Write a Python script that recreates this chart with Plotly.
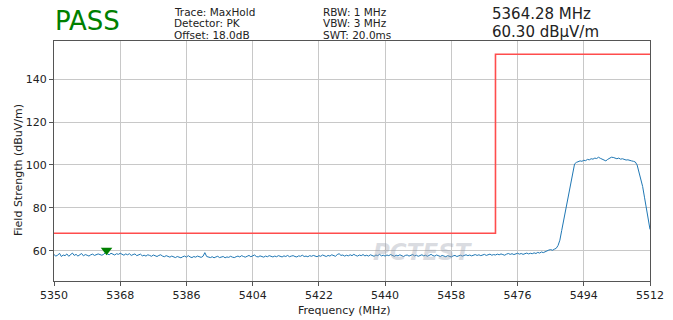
import plotly.graph_objects as go

start_freq = 5350.0
step_mhz = 0.5

trace_vals = [
    58.3, 57.6, 58.0, 58.9, 57.4, 58.1, 57.8, 58.6, 57.5, 58.2, 59.0, 57.9, 58.4, 57.6, 58.1, 58.8, 57.7, 58.3, 58.0, 57.6,
    58.2, 58.5, 57.9, 58.1, 58.6, 58.3, 58.0, 58.4, 59.3, 58.6, 58.2, 58.9, 58.5, 58.1, 58.7, 58.4, 58.9, 58.3, 58.0, 58.6,
    58.2, 58.7, 57.9, 58.3, 58.6, 57.8, 58.1, 58.5, 57.7, 58.0, 57.6, 58.2, 57.9, 57.5, 58.1, 57.8, 57.4, 57.9, 58.2, 57.6,
    57.3, 57.8, 57.5, 57.1, 57.6, 57.2, 56.9, 57.4, 57.0, 56.8, 57.3, 57.6, 57.1, 57.8, 57.2, 56.9, 57.4, 57.1, 57.6, 57.3,
    57.0, 57.5, 59.2, 57.4, 57.1, 56.9, 57.3, 56.8, 57.2, 57.5, 56.9, 57.1, 57.4, 56.8, 57.2, 57.0, 57.5, 57.1, 56.9, 57.3,
    57.6, 57.2, 57.8, 57.4, 57.1, 57.5, 57.9, 57.3, 57.6, 58.1, 57.4, 57.2, 57.7, 57.5, 57.1, 57.6, 57.3, 57.8, 57.4, 57.2,
    57.6, 57.3, 57.8, 57.5, 57.2, 57.7, 57.4, 57.9, 57.3, 57.6, 57.8, 57.4, 57.2, 57.7, 57.5, 58.0, 57.4, 57.6, 57.3, 57.8,
    57.5, 57.9, 57.6, 57.3, 57.8, 57.5, 58.1, 57.7, 57.4, 57.9, 57.6, 58.2, 57.8, 57.5, 58.3, 58.7, 57.9, 58.1, 57.6, 58.0,
    57.7, 58.2, 57.8, 58.4, 57.9, 57.6, 58.1, 57.8, 58.3, 57.7, 58.0, 57.6, 58.2, 57.9, 57.5, 58.1, 57.8, 58.4, 57.7, 58.0,
    57.6, 58.1, 57.8, 58.3, 57.9, 57.5, 58.0, 57.7, 58.2, 57.8, 57.4, 57.9, 58.1, 57.6, 57.9, 58.3, 57.7, 58.0, 57.5, 57.8,
    58.2, 57.7, 58.0, 57.5, 57.9, 58.4, 57.8, 57.6, 58.1, 57.7, 57.4, 57.9, 57.6, 57.3, 57.8, 57.5, 57.2, 57.7, 57.9, 57.4,
    57.7, 58.0, 57.6, 57.9, 58.2, 57.8, 58.1, 57.7, 58.0, 58.3, 57.9, 58.2, 57.8, 58.1, 58.4, 57.9, 58.2, 58.5, 58.0, 58.3,
    58.1, 58.5, 58.2, 58.6, 58.3, 58.0, 58.5, 58.8, 58.4, 58.7, 58.3, 58.6, 58.9, 58.5, 58.8, 58.4, 58.7, 59.0, 58.6, 58.9,
    58.7, 59.1, 58.8, 59.3, 59.0, 59.5, 59.2, 59.7, 59.9, 60.4,
    60.6, 60.3, 60.8, 61.2, 62.5, 65.0, 69.5, 74.0, 78.5, 83.0, 87.5, 92.0, 96.5, 100.5,
    101.2, 101.6, 101.9, 101.7, 102.2, 102.0, 102.6, 102.4, 102.9, 102.7, 103.2, 103.0, 103.6, 103.1, 102.6, 102.2,
    101.9, 102.6, 103.2, 103.6, 103.5, 103.1, 102.9, 103.2, 102.7, 102.9, 102.5, 102.3, 102.4, 102.0, 101.9, 101.7,
    101.4,
    100.0, 97.0, 94.0, 90.0, 85.0, 80.0, 75.0, 70.0,
]
trace_freq = [start_freq + step_mhz * i for i in range(len(trace_vals))]

limit_freq = [5350, 5470, 5470, 5512]
limit_vals = [68.2, 68.2, 151.5, 151.5]

marker_freq = [5364.28]
marker_val = [60.30]

x_ticks = [5350, 5368, 5386, 5404, 5422, 5440, 5458, 5476, 5494, 5512]
y_ticks = [60, 80, 100, 120, 140]

header_left = ["Trace: MaxHold", "Detector: PK", "Offset: 18.0dB"]
header_mid = ["RBW: 1 MHz", "VBW: 3 MHz", "SWT: 20.0ms"]
header_right = ["5364.28 MHz", "60.30 dBµV/m"]

FONT = "DejaVu Sans, sans-serif"
W, H = 673, 320
L, R, T, B = 54, 23, 41, 39
PW, PH = W - L - R, H - T - B


def px(xp):
    return (xp - L) / PW


def py(yp):
    return (H - B - yp) / PH


fig = go.Figure()
fig.add_trace(go.Scatter(x=limit_freq, y=limit_vals, mode="lines",
                         line=dict(color="#ff4d4d", width=1.6), hoverinfo="skip"))
fig.add_trace(go.Scatter(x=trace_freq, y=trace_vals, mode="lines",
                         line=dict(color="#1f77b4", width=1)))
fig.add_trace(go.Scatter(x=marker_freq, y=marker_val, mode="markers",
                         marker=dict(symbol="triangle-down", color="green", size=10)))

fig.update_layout(
    width=W, height=H,
    margin=dict(l=L, r=R, t=T, b=B, autoexpand=False),
    paper_bgcolor="white", plot_bgcolor="white",
    showlegend=False,
    font=dict(family=FONT, size=11, color="#222"),
)
axis_common = dict(showgrid=True, gridcolor="#c8c8c8", gridwidth=1,
                   showline=True, linecolor="#555", linewidth=1, mirror=True,
                   ticks="outside", ticklen=4, tickcolor="#555", zeroline=False,
                   tickfont=dict(size=11, color="#222"), automargin=False)
fig.update_xaxes(range=[5350, 5512], tickvals=x_ticks, ticktext=[str(t) for t in x_ticks], **axis_common)
fig.update_yaxes(range=[46, 157.7], tickvals=y_ticks, ticktext=[str(t) for t in y_ticks], **axis_common)

annotations = [
    dict(text="PASS", xref="paper", yref="paper", x=px(53), y=py(21),
         xanchor="left", yanchor="middle", showarrow=False,
         font=dict(family=FONT, size=26, color="green")),
    dict(text="Frequency (MHz)", xref="paper", yref="paper", x=px(344), y=py(310),
         xanchor="center", yanchor="middle", showarrow=False,
         font=dict(family=FONT, size=11, color="#222")),
    dict(text="Field Strength (dBuV/m)", xref="paper", yref="paper", x=px(18), y=py(170),
         xanchor="center", yanchor="middle", showarrow=False, textangle=-90,
         font=dict(family=FONT, size=11, color="#222")),
    dict(text="<b><i>PCTEST</i></b>", xref="paper", yref="paper", x=px(423), y=py(252),
         xanchor="center", yanchor="middle", showarrow=False,
         font=dict(family=FONT, size=23, color="rgba(150,155,170,0.35)")),
]
for i, t in enumerate(header_left):
    annotations.append(dict(text=t, xref="paper", yref="paper", x=px(172), y=py(12 + 11.5 * i),
                            xanchor="left", yanchor="middle", showarrow=False,
                            font=dict(family=FONT, size=10.5, color="#222")))
for i, t in enumerate(header_mid):
    annotations.append(dict(text=t, xref="paper", yref="paper", x=px(321), y=py(12 + 11.5 * i),
                            xanchor="left", yanchor="middle", showarrow=False,
                            font=dict(family=FONT, size=10.5, color="#222")))
for i, t in enumerate(header_right):
    annotations.append(dict(text=t, xref="paper", yref="paper", x=px(490), y=py(14 + 17.5 * i),
                            xanchor="left", yanchor="middle", showarrow=False,
                            font=dict(family=FONT, size=15, color="#222")))
fig.update_layout(annotations=annotations)

fig.write_html("out.html", config={"displayModeBar": False},
               post_script="document.body.style.margin='0';document.body.style.overflow='hidden';")
